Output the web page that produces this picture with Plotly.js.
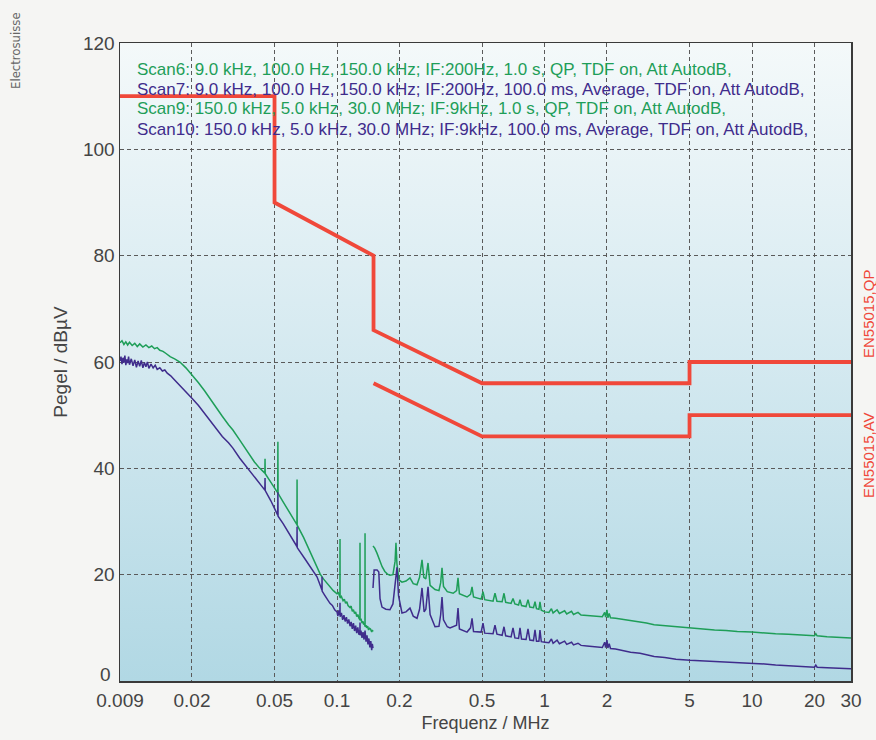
<!DOCTYPE html>
<html>
<head>
<meta charset="utf-8">
<script src="https://cdn.plot.ly/plotly-3.0.1.min.js"></script>
<style>
html,body{margin:0;padding:0;background:#ffffff;}
#chart{width:876px;height:740px;}
</style>
</head>
<body>
<div id="chart"></div>
<script>
// ---- Data ----
var xTickVals = [0.009, 0.02, 0.05, 0.1, 0.2, 0.5, 1, 2, 5, 10, 20, 30];
var xTickText = ['0.009', '0.02', '0.05', '0.1', '0.2', '0.5', '1', '2', '5', '10', '20', '30'];
var yTickVals = [20, 40, 60, 80, 100, 120];
var yZeroLabel = '0';

// EN55015 limit lines
var qpFreq = [0.009, 0.05, 0.05, 0.15, 0.15, 0.5, 5, 5, 30];
var qpLevel = [110, 110, 90, 80, 66, 56, 56, 60, 60];
var avFreq = [0.15, 0.5, 5, 5, 30];
var avLevel = [56, 46, 46, 50, 50];

// Scan6 (QP, 9 kHz - 150 kHz)
var scan6Freq = [0.0090,0.0092,0.0094,0.0096,0.0098,0.0100,0.0103,0.0106,0.0109,0.0112,0.0116,0.0120,0.0124,0.0128,0.0132,0.0136,0.0140,0.0145,0.0150,0.0157,0.0165,0.0175,0.0187,0.0200,0.0215,0.0230,0.0244,0.0260,0.0280,0.0300,0.0315,0.0340,0.0370,0.0400,0.0420,0.0449,0.0450,0.0451,0.0476,0.0500,0.0518,0.0519,0.0520,0.0550,0.0600,0.0641,0.0642,0.0643,0.0690,0.0741,0.0790,0.0830,0.0860,0.0890,0.0925,0.0960,0.1000,0.1015,0.1033,0.1034,0.1035,0.1050,0.1070,0.1085,0.1100,0.1115,0.1130,0.1156,0.1170,0.1185,0.1200,0.1215,0.1230,0.1245,0.1260,0.1275,0.1290,0.1291,0.1292,0.1305,0.1320,0.1335,0.1345,0.1355,0.1364,0.1365,0.1366,0.1380,0.1390,0.1405,0.1420,0.1435,0.1450,0.1470,0.1480,0.1491];
var scan6Level = [63.6,64.0,63.3,63.8,63.2,63.7,63.1,63.5,62.9,63.4,62.8,63.2,62.7,63.0,62.5,62.7,62.2,62.0,61.6,61.0,60.6,60.0,58.9,57.6,56.1,54.6,53.1,51.6,49.8,48.2,47.2,45.3,43.1,41.2,40.2,39.1,41.8,39.0,37.6,36.3,35.4,45.0,35.3,33.7,31.2,29.4,37.9,29.3,27.0,24.4,21.8,20.1,19.2,18.5,17.6,17.0,16.4,16.6,15.8,26.7,15.6,15.9,15.1,15.4,14.6,14.9,14.2,13.8,14.1,13.1,13.4,12.7,13.0,12.1,12.5,11.8,11.5,26.0,11.4,11.7,10.9,11.2,10.6,10.9,10.3,27.8,10.2,10.5,10.0,10.3,9.6,9.9,9.8,9.2,9.6,9.3];

// Scan7 (Average, 9 kHz - 150 kHz)
var scan7Freq = [0.0090,0.0091,0.0092,0.0093,0.0094,0.0095,0.0096,0.0097,0.0098,0.0099,0.0100,0.0102,0.0104,0.0106,0.0108,0.0110,0.0112,0.0114,0.0116,0.0118,0.0120,0.0122,0.0124,0.0127,0.0130,0.0133,0.0136,0.0140,0.0144,0.0148,0.0152,0.0158,0.0165,0.0172,0.0180,0.0190,0.0202,0.0215,0.0230,0.0244,0.0260,0.0280,0.0300,0.0315,0.0340,0.0373,0.0410,0.0449,0.0450,0.0451,0.0480,0.0518,0.0519,0.0520,0.0550,0.0600,0.0641,0.0642,0.0643,0.0700,0.0741,0.0780,0.0801,0.0830,0.0846,0.0847,0.0848,0.0870,0.0895,0.0925,0.0950,0.0975,0.1000,0.1010,0.1020,0.1033,0.1034,0.1035,0.1050,0.1065,0.1080,0.1095,0.1110,0.1125,0.1140,0.1156,0.1170,0.1185,0.1200,0.1215,0.1230,0.1245,0.1260,0.1275,0.1290,0.1291,0.1292,0.1305,0.1320,0.1335,0.1350,0.1365,0.1380,0.1395,0.1410,0.1425,0.1440,0.1455,0.1470,0.1480,0.1491];
var scan7Level = [60.2,61.0,59.6,60.8,59.9,61.2,59.4,60.5,59.8,61.0,59.5,60.6,59.3,60.4,59.0,60.2,59.2,60.3,58.9,59.9,59.1,60.0,58.8,59.6,58.9,59.4,58.6,58.9,58.3,58.5,57.9,57.4,56.6,55.9,55.0,54.1,53.0,51.8,50.3,49.1,47.7,46.0,44.8,43.8,41.9,39.9,37.8,35.9,38.2,35.8,33.9,31.2,35.5,31.0,29.6,27.0,25.3,29.0,25.1,23.0,21.5,20.3,19.6,18.0,17.1,19.6,16.9,16.2,15.5,14.6,14.2,13.4,13.0,12.2,13.3,12.4,14.7,12.1,12.8,11.5,12.4,11.2,12.0,10.8,11.6,10.3,11.1,9.8,10.9,9.4,10.4,9.0,10.1,8.7,9.6,11.0,8.6,9.5,8.1,9.2,7.8,9.5,7.4,8.6,6.9,8.0,6.3,7.5,5.8,7.0,6.2];

// Scan9 (QP, 150 kHz - 30 MHz)
var scan9Freq = [0.1491,0.152,0.156,0.160,0.165,0.170,0.175,0.180,0.186,0.1905,0.1924,0.1945,0.199,0.2057,0.215,0.2248,0.233,0.243,0.250,0.2569,0.262,0.268,0.2746,0.281,0.2967,0.310,0.316,0.3207,0.326,0.340,0.3505,0.363,0.377,0.383,0.389,0.4233,0.440,0.4475,0.455,0.495,0.5054,0.515,0.565,0.5773,0.590,0.625,0.638,0.650,0.690,0.7051,0.720,0.750,0.762,0.775,0.815,0.8328,0.850,0.885,0.900,0.915,0.940,0.951,0.965,1.005,1.05,1.08,1.10,1.15,1.18,1.25,1.28,1.35,1.38,1.45,1.50,1.60,1.70,1.80,1.90,1.95,1.97,2.00,2.02,2.05,2.08,2.20,2.40,2.60,2.886,3.10,3.376,3.80,4.30,5.03,5.80,6.60,7.50,8.50,10.0,11.5,13.0,15.0,17.0,20.0,20.3,20.6,23.0,26.0,30.0];
var scan9Level = [25.4,25.0,24.0,22.8,21.5,20.6,20.1,19.9,20.0,22.5,26.0,22.0,19.0,18.6,18.8,19.4,18.3,18.1,19.5,22.8,19.5,19.2,22.2,18.0,17.2,17.0,18.5,21.3,17.8,16.8,16.6,16.5,17.0,19.4,16.4,15.8,16.3,17.7,15.8,15.4,16.8,15.3,15.0,16.5,15.0,14.9,16.5,14.8,14.6,15.5,14.5,14.3,15.3,14.2,14.0,15.3,13.9,13.8,14.9,13.6,13.5,14.9,13.3,13.0,12.9,13.6,12.8,13.4,12.7,13.2,12.6,13.1,12.5,12.9,12.4,12.3,12.2,12.1,12.1,12.9,12.0,13.4,11.9,12.7,11.9,11.8,11.6,11.4,11.1,10.9,10.6,10.4,10.2,10.0,9.8,9.6,9.5,9.3,9.2,9.0,8.9,8.8,8.7,8.5,8.9,8.5,8.3,8.2,8.1];

// Scan10 (Average, 150 kHz - 30 MHz)
var scan10Freq = [0.1491,0.1510,0.1560,0.1590,0.1612,0.1648,0.172,0.180,0.186,0.190,0.1946,0.198,0.2057,0.215,0.2248,0.233,0.2430,0.250,0.2569,0.263,0.268,0.2746,0.281,0.2967,0.310,0.316,0.3207,0.326,0.340,0.3505,0.377,0.383,0.389,0.4233,0.440,0.4475,0.455,0.495,0.5054,0.515,0.565,0.5773,0.590,0.625,0.638,0.650,0.690,0.7051,0.720,0.750,0.762,0.775,0.815,0.8328,0.850,0.885,0.900,0.915,0.940,0.951,0.965,1.005,1.05,1.08,1.10,1.15,1.18,1.25,1.28,1.35,1.38,1.45,1.50,1.60,1.70,1.80,1.90,1.95,1.97,2.00,2.02,2.05,2.08,2.20,2.40,2.60,2.886,3.10,3.376,3.80,4.30,5.03,5.80,6.60,7.50,8.50,10.0,11.5,13.0,15.0,17.0,20.0,20.3,20.6,23.0,26.0,30.0];
var scan10Level = [17.5,20.9,20.9,20.5,15.5,13.9,13.5,13.4,14.5,18.0,21.4,16.0,12.8,13.0,13.7,12.2,11.8,13.5,17.5,13.0,13.5,17.7,12.5,10.2,10.3,12.5,15.8,11.5,10.2,10.0,10.5,13.7,9.8,9.2,10.0,11.8,9.3,9.2,10.9,9.0,8.9,10.5,8.8,8.6,10.2,8.5,8.3,10.0,8.1,8.0,10.0,7.9,7.8,9.8,7.7,7.6,9.6,7.5,7.5,9.6,7.4,7.3,7.2,7.9,7.1,7.7,7.0,7.5,6.9,7.3,6.8,7.1,6.7,6.6,6.5,6.4,6.3,7.3,6.3,7.7,6.2,7.0,6.1,6.0,5.7,5.4,5.2,4.9,4.6,4.4,4.1,3.9,3.8,3.7,3.6,3.5,3.4,3.2,3.0,2.9,2.8,2.6,3.0,2.6,2.5,2.4,2.3];

var legendLines = [
  'Scan6: 9.0 kHz, 100.0 Hz, 150.0 kHz; IF:200Hz, 1.0 s, QP, TDF on, Att AutodB,',
  'Scan7: 9.0 kHz, 100.0 Hz, 150.0 kHz; IF:200Hz, 100.0 ms, Average, TDF on, Att AutodB,',
  'Scan9: 150.0 kHz, 5.0 kHz, 30.0 MHz; IF:9kHz, 1.0 s, QP, TDF on, Att AutodB,',
  'Scan10: 150.0 kHz, 5.0 kHz, 30.0 MHz; IF:9kHz, 100.0 ms, Average, TDF on, Att AutodB,'
];

// ---- Styles ----
var GREEN = '#1e9e58';
var PURPLE = '#3f2c8c';
var RED = '#f0483a';
var FONT = 'Liberation Sans, Arial, Helvetica, sans-serif';
var legendColors = [GREEN, PURPLE, GREEN, PURPLE];

var traces = [
  {x: scan6Freq, y: scan6Level, mode: 'lines', line: {color: GREEN, width: 1.5}, hoverinfo: 'skip'},
  {x: scan9Freq, y: scan9Level, mode: 'lines', line: {color: GREEN, width: 1.5}, hoverinfo: 'skip'},
  {x: scan7Freq, y: scan7Level, mode: 'lines', line: {color: PURPLE, width: 1.5}, hoverinfo: 'skip'},
  {x: scan10Freq, y: scan10Level, mode: 'lines', line: {color: PURPLE, width: 1.5}, hoverinfo: 'skip'},
  {x: qpFreq, y: qpLevel, mode: 'lines', line: {color: RED, width: 3.8}, hoverinfo: 'skip'},
  {x: avFreq, y: avLevel, mode: 'lines', line: {color: RED, width: 3.8}, hoverinfo: 'skip'}
];

var gradSvg = '<svg xmlns="http://www.w3.org/2000/svg" width="100" height="100" preserveAspectRatio="none">' +
  '<defs><linearGradient id="g" x1="0" y1="0" x2="0" y2="1">' +
  '<stop offset="0" stop-color="#f4f9fa"/><stop offset="0.5" stop-color="#d4e9f0"/><stop offset="1" stop-color="#b1d8e4"/>' +
  '</linearGradient></defs><rect width="100" height="100" fill="url(#g)"/></svg>';
var gradUrl = 'data:image/svg+xml;charset=utf-8,' + encodeURIComponent(gradSvg);

var plotL = 120, plotR = 851, plotT = 43, plotB = 681;
function px2paperX(px) { return (px - plotL) / (plotR - plotL); }
function px2paperY(py) { return 1 - (py - plotT) / (plotB - plotT); }

var annotations = [];
var legendY = [69, 89, 109, 129];
for (var i = 0; i < legendLines.length; i++) {
  annotations.push({
    text: legendLines[i], xref: 'paper', yref: 'paper',
    x: px2paperX(135), y: px2paperY(legendY[i]), xanchor: 'left', yanchor: 'middle',
    showarrow: false, font: {family: FONT, size: 17, color: legendColors[i]}
  });
}
annotations.push({text: 'EN55015,QP', xref: 'paper', yref: 'paper', x: px2paperX(868), y: px2paperY(314),
  xanchor: 'center', yanchor: 'middle', textangle: -90, showarrow: false, font: {family: FONT, size: 15, color: RED}});
annotations.push({text: 'EN55015,AV', xref: 'paper', yref: 'paper', x: px2paperX(868), y: px2paperY(455),
  xanchor: 'center', yanchor: 'middle', textangle: -90, showarrow: false, font: {family: FONT, size: 15, color: RED}});
annotations.push({text: 'Electrosuisse', xref: 'paper', yref: 'paper', x: px2paperX(15), y: px2paperY(50),
  xanchor: 'center', yanchor: 'middle', textangle: -90, showarrow: false,
  font: {family: 'Liberation Sans Narrow, DejaVu Sans Condensed, sans-serif', size: 13, color: '#666'}});
// y-axis "0" label sits slightly above the axis in the reference
annotations.push({text: yZeroLabel, xref: 'paper', yref: 'paper', x: px2paperX(113), y: px2paperY(674),
  xanchor: 'right', yanchor: 'middle', showarrow: false, font: {family: FONT, size: 19, color: '#444'}});

var axisCommon = {
  showgrid: true, gridcolor: '#5a5a5a', gridwidth: 1, griddash: '4px,3px',
  showline: true, mirror: true, linecolor: '#3a3a3a', linewidth: 1.5,
  ticks: '', zeroline: false, fixedrange: true,
  tickfont: {family: FONT, size: 19, color: '#444'}
};

var layout = {
  width: 876, height: 740,
  margin: {l: plotL, r: 876 - plotR, t: plotT, b: 740 - plotB},
  paper_bgcolor: '#f5f5f3', plot_bgcolor: 'rgba(0,0,0,0)',
  showlegend: false,
  xaxis: Object.assign({}, axisCommon, {
    type: 'log', range: [Math.log10(0.009), Math.log10(30)],
    tickmode: 'array', tickvals: xTickVals, ticktext: xTickText,
    ticklabelstandoff: 2,
    title: {text: 'Frequenz / MHz', font: {family: FONT, size: 18, color: '#444'}, standoff: 6}
  }),
  yaxis: Object.assign({}, axisCommon, {
    range: [0, 120], tickmode: 'array', tickvals: yTickVals,
    title: {text: 'Pegel / dBµV', font: {family: FONT, size: 19, color: '#444'}, standoff: 10}
  }),
  images: [{source: gradUrl, xref: 'paper', yref: 'paper', x: 0, y: 1, sizex: 1, sizey: 1,
    xanchor: 'left', yanchor: 'top', sizing: 'stretch', layer: 'below'}],
  annotations: annotations
};

Plotly.newPlot('chart', traces, layout, {staticPlot: true, displayModeBar: false});
</script>
</body>
</html>
